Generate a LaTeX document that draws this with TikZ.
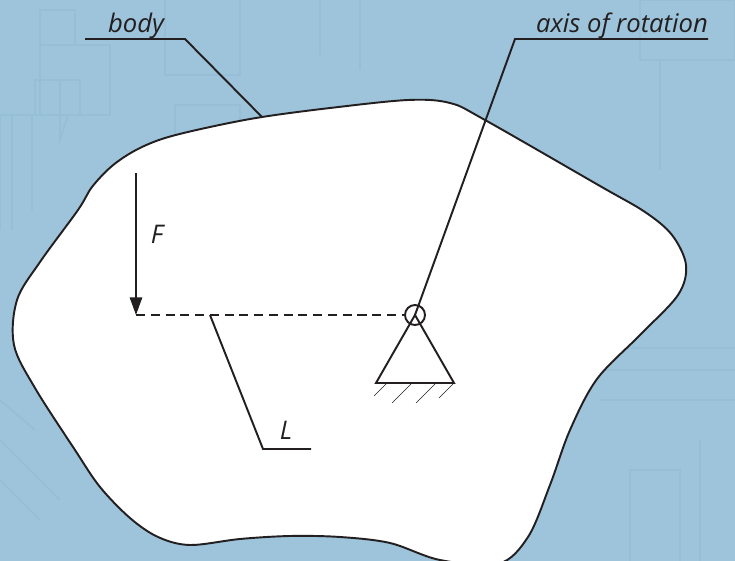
\documentclass[tikz,border=0pt]{standalone}
\usepackage{fontspec}
\setmainfont{Open Sans}
\usetikzlibrary{arrows.meta, positioning, calc}
\definecolor{backblue}{RGB}{157, 196, 218}
\definecolor{ghostblue}{RGB}{150, 190, 214}
\definecolor{inkgray}{RGB}{35, 31, 32}
\begin{document}
\begin{tikzpicture}[
    x=0.02cm, y=-0.02cm,
    outline/.style={draw=inkgray, line width=1.1pt},
    leader/.style={draw=inkgray, line width=1.1pt},
    ghost/.style={draw=ghostblue, line width=1pt},
    tag/.style={font=\itshape\fontsize{14.6}{16}\selectfont, text=inkgray, inner sep=0pt, anchor=base}
]
    \useasboundingbox (0,0) rectangle (735,561);
    \clip (0,0) rectangle (735,561);
    \fill[backblue] (0,0) rectangle (735,561);
    % faint drawing behind the body
    \draw[ghost] (40,10) rectangle (75,45) (40,45) rectangle (110,115)
        (0,115) -- (110,115) (35,80) rectangle (80,115) (60,80) -- (60,140) -- (68,115);
    \draw[ghost] (0,115) -- (0,230) (12,115) -- (12,230) (32,115) -- (32,210);
    \draw[ghost] (165,0) -- (165,75) -- (240,75) (175,105) rectangle (240,135) (240,0) -- (240,75);
    \draw[ghost] (320,0) -- (320,55) (360,0) -- (360,70) (640,0) rectangle (735,60) (660,60) -- (660,170);
    \draw[ghost] (0,400) -- (35,430) (0,440) -- (60,500) (0,480) -- (40,520);
    \draw[ghost] (600,370) -- (735,370) (605,348) -- (735,348) (600,400) -- (735,400);
    \draw[ghost] (630,561) -- (630,470) -- (680,470) -- (680,561) (700,561) -- (700,440);
    % body
    \draw[outline, fill=white] plot[smooth cycle, tension=0.55] coordinates {
        (262,117) (330,108) (408,100) (450,103) (485,120) (600,186) (645,212)
        (672,235) (686,265) (678,295) (640,335) (597,379) (570,430) (550,485) (528,537)
        (498,564) (440,560) (390,543) (340,537) (290,536) (240,539) (190,545)
        (158,537) (130,518) (100,487) (75,450) (35,388) (14,345) (17,300) (40,262)
        (78,210) (92,187) (112,166) (136,150) (165,138) (210,127)};
    \coordinate (bodyedge) at (262,117);
    \coordinate (bodyelbow) at (185,39);
    \coordinate (bodyend) at (85,39);
    \coordinate (axiselbow) at (515,39);
    \coordinate (axisend) at (708,39);
    \coordinate (forcetop) at (136,173);
    \coordinate (forcefoot) at (136,315);
    \coordinate (armfoot) at (210,315);
    \coordinate (armelbow) at (263,449);
    \coordinate (armend) at (311,449);
    \coordinate (baseleft) at (376,383);
    \coordinate (baseright) at (454,383);

    \node[draw=inkgray, line width=1.1pt, circle, minimum size=0.4cm, inner sep=0pt] (pivot) at (415,315) {};

    \node[tag] (bodylabel) at (136,32) {body};
    \node[tag] (axislabel) at (622,32) {axis of rotation};
    \node[tag] (forcelabel) at (157,243) {F};
    \node[tag] (armlabel) at (286,439) {L};

    \draw[leader] (bodyend) -- (bodyelbow) -- (bodyedge);
    \draw[leader] (axisend) -- (axiselbow) -- (pivot.center);
    \draw[leader, -{Stealth[length=10pt, width=7pt, inset=0pt]}] (forcetop) -- (forcefoot);
    \draw[leader, dash pattern=on 5.2pt off 3.2pt] (forcefoot) -- (pivot.west);
    \draw[leader] (armfoot) -- (armelbow) -- (armend);
    % support
    \draw[outline, line join=miter] (pivot.center) -- (baseleft) -- (baseright) -- cycle;
    \foreach \hx/\hl in {387/13, 412/20, 436/20, 454/15}
        \draw[inkgray, line width=0.4pt] (\hx,383) -- ++(-\hl,\hl);
\end{tikzpicture}
\end{document}
